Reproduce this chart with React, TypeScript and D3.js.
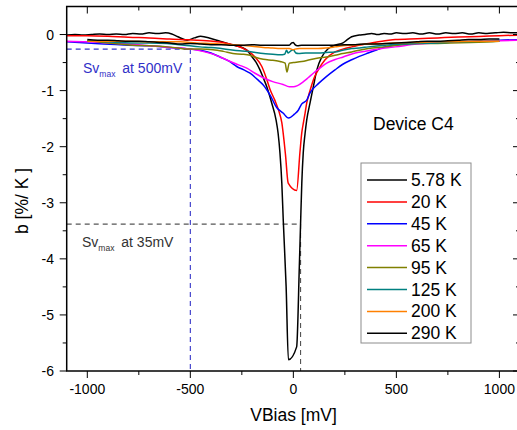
import React from "react";
import * as d3 from "d3";

// ---------- data ----------
const xTicks = [-1000, -500, 0, 500, 1000];
const xMinorTicks = [-750, -250, 250, 750];
const yTicks = [0, -1, -2, -3, -4, -5, -6];
const yMinorTicks = [-0.5, -1.5, -2.5, -3.5, -4.5, -5.5];

const seriesNames = ["5.78 K", "20 K", "45 K", "65 K", "95 K", "125 K", "200 K", "290 K"];
const seriesColors = ["#000000", "#ff0000", "#0000ff", "#ff00ff", "#808000", "#008080", "#ff8000", "#000000"];

const s578: [number, number][] = [
  [-1100, -0.01], [-1060, 0.0], [-1020, -0.01], [-980, 0.0], [-940, 0.01], [-900, 0.0], [-860, 0.01],
  [-820, 0.0], [-780, 0.02], [-740, 0.01], [-700, 0.03], [-660, 0.02], [-620, 0.03], [-590, 0.01],
  [-560, -0.04], [-516, -0.1], [-480, -0.06], [-450, -0.03], [-400, -0.07], [-356, -0.12], [-320, -0.16],
  [-280, -0.2], [-244, -0.24], [-220, -0.3], [-200, -0.4], [-180, -0.5], [-162, -0.63], [-145, -0.78],
  [-129, -0.93], [-105, -1.22], [-84, -1.52], [-74, -1.76], [-65, -2.11], [-56, -2.65], [-49, -3.31],
  [-35, -4.5], [-24, -5.8], [16, -5.57], [29, -4.14], [35, -3.38], [41, -2.65], [48, -2.11], [57, -1.76],
  [65, -1.52], [81, -1.22], [97, -0.93], [114, -0.63], [138, -0.4], [170, -0.25], [202, -0.19],
  [241, -0.15], [259, -0.1], [283, -0.04], [320, -0.01], [348, 0.0], [380, 0.02], [410, 0.0], [440, 0.02],
  [470, 0.01], [500, 0.03], [540, 0.02], [580, 0.03], [620, 0.01], [660, 0.03], [700, 0.01], [740, 0.03],
  [780, 0.02], [820, 0.03], [860, 0.01], [900, 0.03], [940, 0.02], [980, 0.03], [1020, 0.04],
  [1060, 0.03], [1100, 0.03],
];

const s20: [number, number][] = [
  [-1100, -0.02], [-1000, -0.02], [-900, -0.03], [-800, -0.05], [-700, -0.06], [-600, -0.08],
  [-550, -0.09], [-470, -0.1], [-390, -0.12], [-330, -0.15], [-275, -0.2], [-226, -0.28], [-186, -0.4],
  [-153, -0.57], [-129, -0.8], [-113, -0.98], [-90, -1.17], [-70, -1.37], [-56, -1.57], [-45, -1.9],
  [-38, -2.15], [-25, -2.65], [16, -2.78], [32, -2.1], [41, -1.75], [50, -1.55], [57, -1.4], [65, -1.22],
  [73, -1.1], [85, -0.95], [97, -0.81], [121, -0.63], [154, -0.45], [202, -0.31], [240, -0.26],
  [283, -0.22], [364, -0.16], [445, -0.11], [494, -0.09], [600, -0.075], [700, -0.06], [800, -0.045],
  [900, -0.035], [1000, -0.02], [1100, -0.01],
];

const s45: [number, number][] = [
  [-1100, -0.13], [-1000, -0.15], [-919, -0.17], [-800, -0.19], [-696, -0.2], [-600, -0.23],
  [-501, -0.26], [-453, -0.28], [-400, -0.33], [-356, -0.4], [-310, -0.48], [-275, -0.57], [-240, -0.63],
  [-210, -0.69], [-175, -0.8], [-146, -0.9], [-113, -1.08], [-81, -1.3], [-50, -1.4], [-23, -1.49],
  [5, -1.42], [24, -1.35], [40, -1.24], [65, -1.17], [81, -1.04], [100, -0.95], [120, -0.88],
  [160, -0.75], [202, -0.63], [240, -0.53], [283, -0.45], [320, -0.39], [363, -0.33], [400, -0.28],
  [445, -0.22], [494, -0.19], [550, -0.17], [650, -0.15], [761, -0.13], [900, -0.12], [1003, -0.1],
  [1100, -0.09],
];

const s65: [number, number][] = [
  [-1100, -0.12], [-1000, -0.13], [-900, -0.15], [-800, -0.17], [-700, -0.2], [-600, -0.23],
  [-550, -0.24], [-500, -0.26], [-440, -0.3], [-390, -0.35], [-350, -0.41], [-306, -0.48],
  [-266, -0.54], [-226, -0.6], [-186, -0.69], [-146, -0.77], [-100, -0.84], [-50, -0.89], [-20, -0.93],
  [0, -0.93], [20, -0.91], [49, -0.84], [72, -0.77], [97, -0.69], [128, -0.6], [162, -0.51],
  [200, -0.45], [242, -0.4], [300, -0.33], [364, -0.29], [445, -0.24], [494, -0.22], [600, -0.17],
  [700, -0.15], [800, -0.13], [900, -0.12], [1000, -0.11], [1100, -0.1],
];

const s95: [number, number][] = [
  [-1000, -0.11], [-950, -0.13], [-900, -0.15], [-840, -0.17], [-778, -0.19], [-700, -0.2],
  [-613, -0.22], [-560, -0.24], [-516, -0.26], [-450, -0.26], [-390, -0.27], [-340, -0.3],
  [-293, -0.34], [-250, -0.35], [-210, -0.37], [-180, -0.41], [-146, -0.44], [-100, -0.46],
  [-65, -0.48], [-40, -0.51], [-31, -0.67], [-20, -0.51], [0, -0.5], [41, -0.48], [80, -0.45],
  [121, -0.42], [160, -0.4], [202, -0.37], [240, -0.34], [283, -0.31], [320, -0.28], [364, -0.25],
  [445, -0.22], [520, -0.18], [599, -0.16], [680, -0.16], [761, -0.15], [860, -0.14], [969, -0.13],
  [1000, -0.12],
];

const s125: [number, number][] = [
  [-1000, -0.11], [-950, -0.12], [-900, -0.13], [-850, -0.14], [-778, -0.15], [-700, -0.15],
  [-613, -0.16], [-530, -0.19], [-453, -0.22], [-400, -0.23], [-350, -0.25], [-307, -0.27],
  [-260, -0.29], [-200, -0.31], [-146, -0.34], [-100, -0.35], [-65, -0.36], [-42, -0.35],
  [-33, -0.28], [-25, -0.33], [-12, -0.29], [0, -0.27], [12, -0.33], [24, -0.34], [60, -0.33],
  [121, -0.33], [160, -0.32], [202, -0.31], [240, -0.28], [283, -0.25], [320, -0.24], [364, -0.22],
  [445, -0.19], [520, -0.17], [599, -0.16], [700, -0.15], [800, -0.13], [900, -0.12], [1000, -0.12],
];

const s200: [number, number][] = [
  [-1000, -0.12], [-900, -0.12], [-800, -0.12], [-700, -0.13], [-600, -0.13], [-550, -0.13],
  [-470, -0.15], [-390, -0.16], [-300, -0.18], [-226, -0.2], [-147, -0.23], [-100, -0.24],
  [-65, -0.25], [-20, -0.25], [0, -0.27], [8, -0.26], [30, -0.25], [120, -0.25], [160, -0.24],
  [202, -0.22], [240, -0.2], [283, -0.19], [363, -0.17], [445, -0.16], [494, -0.15], [600, -0.14],
  [700, -0.13], [761, -0.13], [860, -0.12], [1000, -0.12],
];

const s290: [number, number][] = [
  [-1000, -0.09], [-950, -0.1], [-900, -0.1], [-850, -0.11], [-800, -0.12], [-750, -0.12],
  [-700, -0.13], [-650, -0.14], [-600, -0.15], [-550, -0.17], [-500, -0.16], [-450, -0.17],
  [-400, -0.18], [-350, -0.18], [-300, -0.19], [-250, -0.19], [-200, -0.18], [-150, -0.19],
  [-100, -0.19], [-60, -0.19], [-20, -0.19], [-8, -0.15], [0, -0.14], [8, -0.18], [20, -0.2],
  [40, -0.19], [100, -0.19], [150, -0.19], [200, -0.19], [250, -0.18], [300, -0.18], [350, -0.17],
  [400, -0.17], [450, -0.16], [500, -0.15], [550, -0.14], [600, -0.13], [650, -0.12], [700, -0.12],
  [750, -0.11], [800, -0.1], [850, -0.09], [900, -0.09], [950, -0.08], [1000, -0.08],
];

const seriesData = [s578, s20, s45, s65, s95, s125, s200, s290];

// annotation reference points
const sv500: [number, number] = [-500, -0.26];
const sv35: [number, number] = [35, -3.38];

// ---------- layout ----------
const W = 517;
const H = 430;
const FONT = "'Liberation Sans', Arial, sans-serif";

export default function App() {
  const x = d3.scaleLinear().domain([-1100, 1100]).range([66.7, 520]);
  const y = d3.scaleLinear().domain([-6, 0.5]).range([371, 6.5]);
  const [x0, x1] = x.range();
  const [yb, yt] = y.range();

  const line = d3
    .line<[number, number]>()
    .x((d) => x(d[0]))
    .y((d) => y(d[1]))
    .curve(d3.curveMonotoneX);

  const majorLen = 7;
  const minorLen = 4;

  const legX = 361;
  const legY = 163;
  const legW = 110;
  const legH = 180;
  const legRow0 = 180;
  const legStep = 21.9;

  return (
    <svg
      width={W}
      height={H}
      style={{ position: "fixed", left: 0, top: 0, background: "#fff" }}
      fontFamily={FONT}
    >
      <defs>
        <clipPath id="plotclip">
          <rect x={x0} y={yt} width={x1 - x0} height={yb - yt} />
        </clipPath>
      </defs>
      <rect x={0} y={0} width={W} height={H} fill="#fff" />

      {/* dashed annotation lines */}
      <g fill="none" strokeWidth={1.1}>
        <line x1={x0} x2={x(sv500[0])} y1={y(sv500[1])} y2={y(sv500[1])} stroke="#3535c8" strokeDasharray="5,4" />
        <line x1={x(sv500[0])} x2={x(sv500[0])} y1={y(sv500[1])} y2={yb} stroke="#3535c8" strokeDasharray="5,4" />
        <line x1={x0} x2={x(sv35[0])} y1={y(sv35[1])} y2={y(sv35[1])} stroke="#555" strokeDasharray="5,4" />
        <line x1={x(sv35[0])} x2={x(sv35[0])} y1={y(sv35[1])} y2={yb} stroke="#555" strokeDasharray="5,4" />
      </g>

      {/* curves */}
      <g clipPath="url(#plotclip)" fill="none" strokeWidth={1.5} strokeLinejoin="round">
        {seriesData.map((s, i) => (
          <path key={i} d={line(s) || ""} stroke={seriesColors[i]} />
        ))}
      </g>

      {/* frame */}
      <rect x={x0} y={yt} width={x1 - x0} height={yb - yt} fill="none" stroke="#000" strokeWidth={1.5} />

      {/* ticks */}
      <g stroke="#000" strokeWidth={1}>
        {xTicks.map((t) => (
          <g key={"xt" + t}>
            <line x1={x(t)} x2={x(t)} y1={yb} y2={yb + majorLen} />
            <line x1={x(t)} x2={x(t)} y1={yt} y2={yt + majorLen} />
          </g>
        ))}
        {xMinorTicks.map((t) => (
          <g key={"xm" + t}>
            <line x1={x(t)} x2={x(t)} y1={yb} y2={yb + minorLen} />
            <line x1={x(t)} x2={x(t)} y1={yt} y2={yt + minorLen} />
          </g>
        ))}
        {yTicks.map((t) => (
          <g key={"yt" + t}>
            <line x1={x0 - majorLen} x2={x0} y1={y(t)} y2={y(t)} />
            <line x1={x1 - majorLen} x2={x1} y1={y(t)} y2={y(t)} />
          </g>
        ))}
        {yMinorTicks.map((t) => (
          <g key={"ym" + t}>
            <line x1={x0 - minorLen} x2={x0} y1={y(t)} y2={y(t)} />
            <line x1={x1 - minorLen} x2={x1} y1={y(t)} y2={y(t)} />
          </g>
        ))}
      </g>

      {/* tick labels */}
      <g fontSize={14} fill="#000">
        {xTicks.map((t) => (
          <text key={"xl" + t} x={x(t)} y={394} textAnchor="middle">
            {t}
          </text>
        ))}
        {yTicks.map((t) => (
          <text key={"yl" + t} x={54} y={y(t) + 5} textAnchor="end">
            {t}
          </text>
        ))}
      </g>

      {/* axis titles */}
      <text x={293.5} y={421} fontSize={17.5} textAnchor="middle" fill="#000">
        VBias [mV]
      </text>
      <text
        transform={`translate(28,201) rotate(-90)`}
        fontSize={17.5}
        textAnchor="middle"
        fill="#000"
      >
        b [%/ K ]
      </text>

      {/* annotations */}
      <text x={83} y={73} fontSize={14} fill="#3030c8">
        Sv
        <tspan fontSize={8.5} dy={4}>max</tspan>
        <tspan dy={-4} dx={3}> at 500mV</tspan>
      </text>
      <text x={82} y={247} fontSize={14} fill="#333">
        Sv
        <tspan fontSize={8.5} dy={4}>max</tspan>
        <tspan dy={-4} dx={3}> at 35mV</tspan>
      </text>
      <text x={373} y={130} fontSize={17.5} fill="#000">
        Device C4
      </text>

      {/* legend */}
      <rect x={legX} y={legY} width={legW} height={legH} fill="#fff" stroke="#8c8c8c" strokeWidth={1} />
      {seriesNames.map((n, i) => (
        <g key={n + i}>
          <line
            x1={367}
            x2={407}
            y1={legRow0 + i * legStep}
            y2={legRow0 + i * legStep}
            stroke={seriesColors[i]}
            strokeWidth={1.5}
          />
          <text x={411} y={legRow0 + i * legStep + 6} fontSize={17.5} fill="#000">
            {n}
          </text>
        </g>
      ))}
    </svg>
  );
}
